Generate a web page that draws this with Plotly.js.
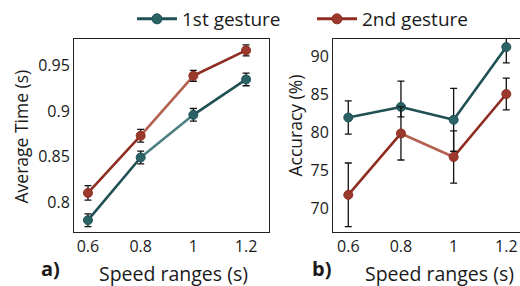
<!DOCTYPE html>
<html>
<head>
<meta charset="utf-8">
<script src="https://cdn.plot.ly/plotly-3.0.1.min.js"></script>
<style>html,body{margin:0;padding:0;background:#fff;}#chart{width:520px;height:286px;}</style>
</head>
<body>
<div id="chart"></div>
<script>
// ---- data ----
const speeds = [0.6, 0.8, 1.0, 1.2];
const speedLabels = ['0.6', '0.8', '1', '1.2'];
const seriesNames = ['1st gesture', '2nd gesture'];

const timeFirst = [0.780, 0.849, 0.896, 0.935];
const timeFirstErr = [0.007, 0.007, 0.007, 0.007];
const timeSecond = [0.810, 0.873, 0.939, 0.967];
const timeSecondErr = [0.008, 0.007, 0.006, 0.006];
const timeTicks = [0.8, 0.85, 0.9, 0.95];
const timeTickLabels = ['0.8', '0.85', '0.9', '0.95'];

const accFirst = [82.0, 83.4, 81.7, 91.3];
const accFirstErrUp = [2.2, 3.4, 4.15, 2.1];
const accFirstErrDown = [2.2, 1.3, 4.15, 2.1];
const accSecond = [71.8, 79.9, 76.8, 85.1];
const accSecondErr = [4.2, 3.5, 3.45, 2.1];
const accTicks = [70, 75, 80, 85, 90];
const accTickLabels = ['70', '75', '80', '85', '90'];

// ---- styles ----
const FONT = '"Open Sans", "Noto Sans", sans-serif';
const TEAL = '#1e5054', TEAL_L = '#4f7f83', TEAL_M = '#2b6266';
const RED = '#8e2e22', RED_L = '#b4604f', RED_M = '#9b3a2c';
const W = 520, H = 286, MT = 38, MB = 54;
const px = v => v / W;
const py = v => (H - MB - v) / (H - MT - MB);

const traces = [];
function addSeries(xs, ys, errUp, errDown, xa, ya, segColors, markerColor, lineColor) {
  for (let i = 0; i < xs.length - 1; i++) {
    traces.push({
      type: 'scatter', mode: 'lines', x: xs.slice(i, i + 2), y: ys.slice(i, i + 2),
      xaxis: xa, yaxis: ya, showlegend: false, hoverinfo: 'skip',
      line: {color: segColors[i], width: 2.6}
    });
  }
  traces.push({
    type: 'scatter', mode: 'markers', x: xs, y: ys, xaxis: xa, yaxis: ya, showlegend: false,
    marker: {color: markerColor, size: 9, line: {color: lineColor, width: 1}},
    error_y: {type: 'data', symmetric: false, array: errUp, arrayminus: errDown,
              color: '#111', thickness: 1.3, width: 3.5}
  });
}
addSeries(speeds, timeFirst, timeFirstErr, timeFirstErr, 'x', 'y', [TEAL, TEAL_L, TEAL], TEAL_M, TEAL);
addSeries(speeds, timeSecond, timeSecondErr, timeSecondErr, 'x', 'y', [RED, RED_L, RED], RED_M, RED);
addSeries(speeds, accFirst, accFirstErrUp, accFirstErrDown, 'x2', 'y2', [TEAL, TEAL, TEAL], TEAL_M, TEAL);
addSeries(speeds, accSecond, accSecondErr, accSecondErr, 'x2', 'y2', [RED, RED_L, RED], RED_M, RED);

// legend entries
[[seriesNames[0], TEAL, TEAL_M], [seriesNames[1], RED, RED_M]].forEach(([n, lc, mc]) => {
  traces.push({type: 'scatter', mode: 'lines+markers', x: [null], y: [null], name: n,
    line: {color: lc, width: 3}, marker: {color: mc, size: 10, line: {color: lc, width: 1}}});
});

const axisCommon = {
  showline: true, linecolor: '#222', linewidth: 1, showgrid: false, zeroline: false,
  ticks: '', tickfont: {family: FONT, size: 16, color: '#1a1a1a'}, tickmode: 'array', fixedrange: true
};

function ann(text, x, y, size, angle) {
  return {text: text, x: px(x), y: py(y), xref: 'paper', yref: 'paper', xanchor: 'center', yanchor: 'middle',
          textangle: angle || 0, showarrow: false, font: {family: FONT, size: size, color: '#1a1a1a'}};
}

const layout = {
  width: W, height: H, margin: {l: 0, r: 0, t: MT, b: MB},
  paper_bgcolor: '#fff', plot_bgcolor: '#fff',
  font: {family: FONT, color: '#1a1a1a'},
  showlegend: true,
  legend: {orientation: 'h', x: px(132), xanchor: 'left', y: py(18), yanchor: 'middle',
           entrywidth: 125, entrywidthmode: 'pixels',
           font: {family: FONT, size: 19, color: '#1a1a1a'}, itemwidth: 40, bgcolor: 'rgba(0,0,0,0)'},
  xaxis: Object.assign({}, axisCommon, {domain: [px(74), px(269)], range: [0.547, 1.287],
          tickvals: speeds, ticktext: speedLabels, mirror: true, anchor: 'y'}),
  yaxis: Object.assign({}, axisCommon, {domain: [0, 1], range: [0.767, 0.9795],
          tickvals: timeTicks, ticktext: timeTickLabels, mirror: true, anchor: 'x'}),
  xaxis2: Object.assign({}, axisCommon, {domain: [px(333), 1], range: [0.542, 1.252],
          tickvals: speeds, ticktext: speedLabels, mirror: true, anchor: 'y2'}),
  yaxis2: Object.assign({}, axisCommon, {domain: [0, 1], range: [66.9, 92.36],
          tickvals: accTicks, ticktext: accTickLabels, mirror: false, anchor: 'x2'}),
  annotations: [
    ann('Average Time (s)', 21, 136, 17.5, -90),
    ann('Accuracy (%)', 295, 125, 17.5, -90),
    ann('Speed ranges (s)', 173.5, 274, 19.5),
    ann('Speed ranges (s)', 439.5, 274, 19.5),
    ann('<b>a)</b>', 50, 269, 20),
    ann('<b>b)</b>', 321, 269, 20)
  ]
};

Plotly.newPlot('chart', traces, layout, {displayModeBar: false, staticPlot: true});
</script>
</body>
</html>
